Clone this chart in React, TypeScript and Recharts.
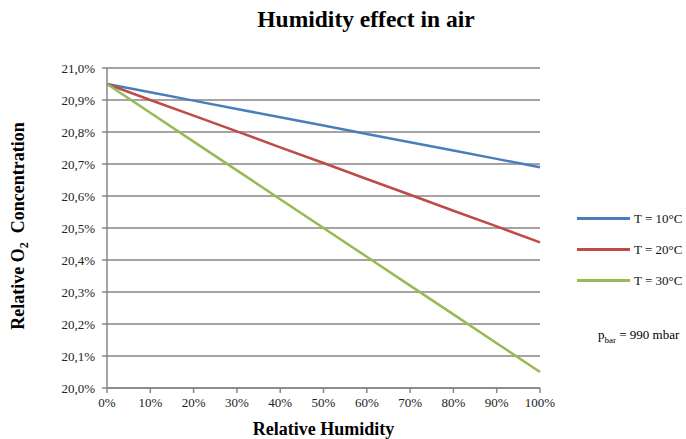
import { LineChart, Line, XAxis, YAxis, CartesianGrid } from "recharts";

const humidity = [0, 10, 20, 30, 40, 50, 60, 70, 80, 90, 100];
const t10 = [20.95, 20.924, 20.898, 20.872, 20.846, 20.82, 20.794, 20.768, 20.742, 20.716, 20.69];
const t20 = [20.95, 20.9, 20.851, 20.802, 20.752, 20.703, 20.653, 20.604, 20.554, 20.505, 20.455];
const t30 = [20.95, 20.86, 20.77, 20.68, 20.59, 20.5, 20.41, 20.32, 20.23, 20.14, 20.05];
const yTicks = [20.0, 20.1, 20.2, 20.3, 20.4, 20.5, 20.6, 20.7, 20.8, 20.9, 21.0];

const series = [
  { key: "t10", name: "T = 10°C", color: "#4a7ebb" },
  { key: "t20", name: "T = 20°C", color: "#be4b48" },
  { key: "t30", name: "T = 30°C", color: "#98b954" },
];

const data = humidity.map((h, i) => ({ h, t10: t10[i], t20: t20[i], t30: t30[i] }));

const serif = "'Liberation Serif', 'Times New Roman', serif";
const axisGray = "#868686";
const tickStyle = { fill: "#222", fontSize: 13, fontFamily: serif };

function LegendBox() {
  return (
    <div style={{ position: "absolute", left: 577, top: 203, fontFamily: serif, fontSize: 13, color: "#111" }}>
      {series.map((s) => (
        <div key={s.key} style={{ display: "flex", alignItems: "center", height: 31, whiteSpace: "nowrap" }}>
          <span style={{ display: "inline-block", width: 53, height: 3, background: s.color, marginRight: 4 }} />
          {s.name}
        </div>
      ))}
    </div>
  );
}

export default function App() {
  return (
    <div style={{ position: "absolute", left: 0, top: 0, width: 686, height: 439, background: "#fff", fontFamily: serif }}>
      <LineChart
        width={686}
        height={439}
        data={data}
        margin={{ top: 68, right: 146, bottom: 21, left: 47 }}
        style={{ fontFamily: serif }}
      >
        <CartesianGrid vertical={false} stroke={axisGray} strokeWidth={1.5} />
        <XAxis
          dataKey="h"
          type="number"
          domain={[0, 100]}
          ticks={humidity}
          interval={0}
          height={30}
          tickFormatter={(v: number) => `${v}%`}
          stroke={axisGray}
          strokeWidth={1.5}
          tickSize={5}
          tick={{ ...tickStyle, dy: 3 }}
        />
        <YAxis
          domain={[20, 21]}
          ticks={yTicks}
          interval={0}
          width={60}
          tickFormatter={(v: number) => `${v.toFixed(1).replace(".", ",")}%`}
          stroke={axisGray}
          strokeWidth={1.5}
          tickSize={5}
          tick={{ ...tickStyle, dx: -5 }}
        />
        {series.map((s) => (
          <Line
            key={s.key}
            dataKey={s.key}
            name={s.name}
            type="linear"
            stroke={s.color}
            strokeWidth={2.5}
            dot={false}
            isAnimationActive={false}
          />
        ))}
      </LineChart>
      <LegendBox />
      <div style={{ position: "absolute", left: 0, top: 6, width: 732, textAlign: "center", fontSize: 23.5, fontWeight: "bold" }}>
        Humidity effect in air
      </div>
      <div
        style={{
          position: "absolute",
          left: 20,
          top: 226,
          transform: "translate(-50%, -50%) rotate(-90deg)",
          whiteSpace: "nowrap",
          fontSize: 18,
          fontWeight: "bold",
        }}
      >
        Relative O<sub style={{ fontSize: 12 }}>2</sub>&nbsp; Concentration
      </div>
      <div style={{ position: "absolute", left: 107, top: 419, width: 433, textAlign: "center", fontSize: 18, fontWeight: "bold" }}>
        Relative Humidity
      </div>
      <div style={{ position: "absolute", left: 598, top: 327, fontSize: 13, whiteSpace: "nowrap" }}>
        p<sub style={{ fontSize: 9 }}>bar</sub> = 990 mbar
      </div>
    </div>
  );
}
